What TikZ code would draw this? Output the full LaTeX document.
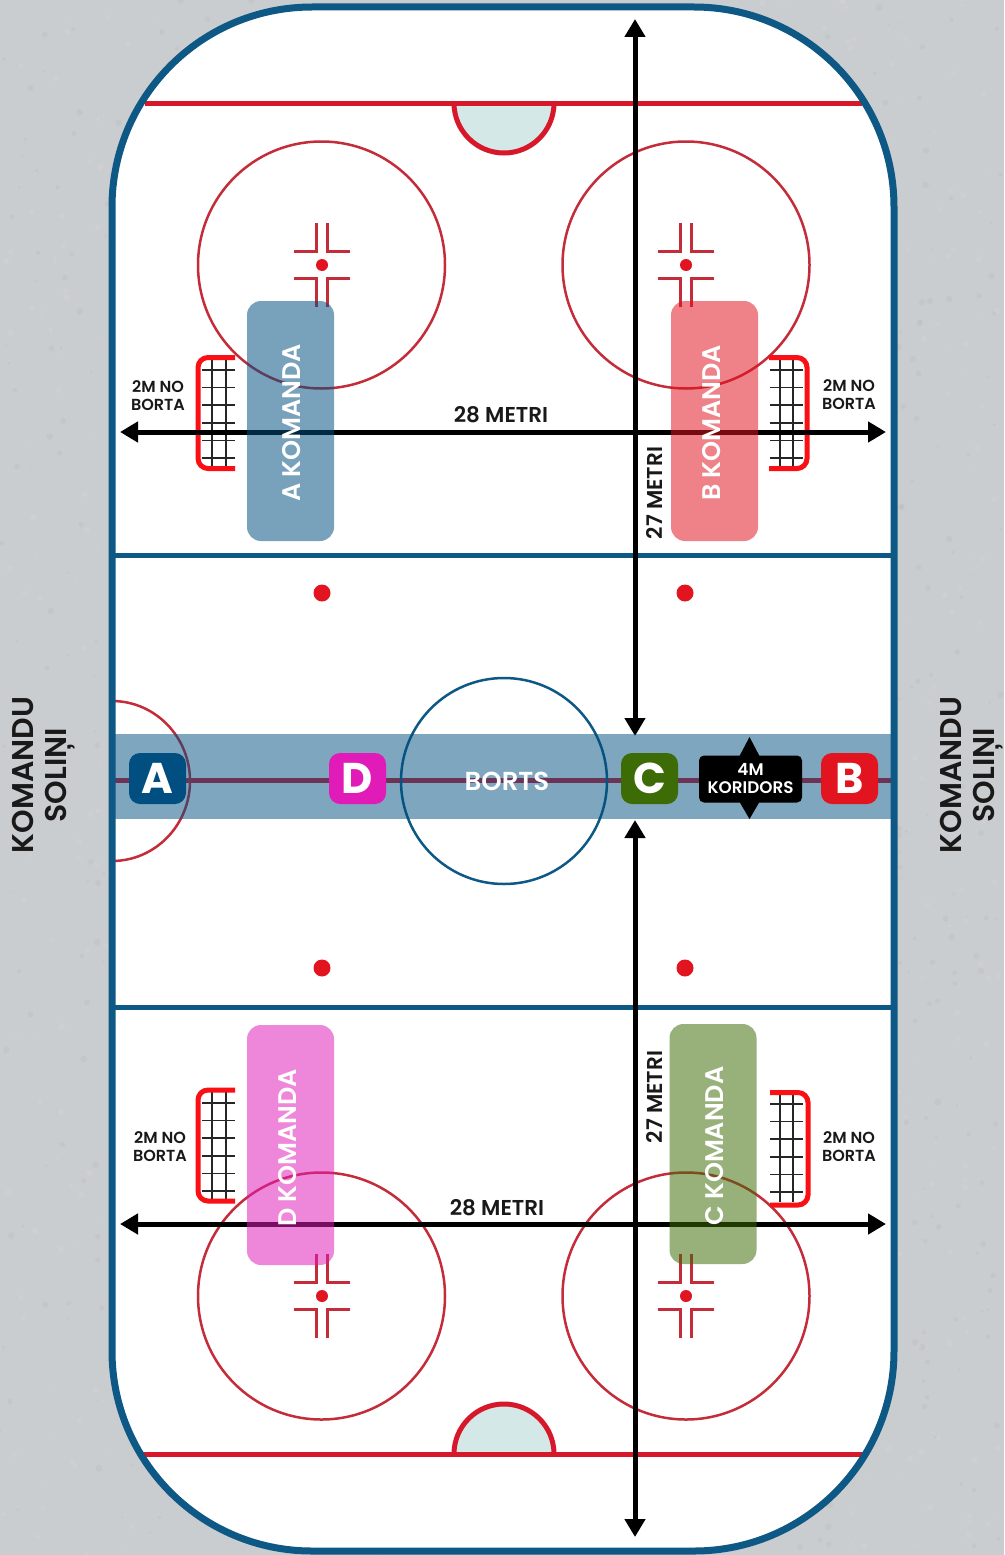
\documentclass[tikz,border=0pt]{standalone}
\usepackage{fontspec}
\setmainfont{Poppins}[BoldFont={Poppins SemiBold}]
\newfontfamily\heavy{Poppins}[UprightFont={Poppins Bold}]
\usetikzlibrary{arrows.meta,shapes.geometric}
\definecolor{bgcol}{HTML}{CACDD0}
\definecolor{rinkblue}{HTML}{0D5885}
\definecolor{linered}{HTML}{D7182A}
\definecolor{thinred}{HTML}{C42C3A}
\definecolor{goalred}{HTML}{FA0F14}
\definecolor{creasefill}{HTML}{D4E8E8}
\definecolor{teamA}{HTML}{004F80}
\definecolor{teamB}{HTML}{E1141F}
\definecolor{teamC}{HTML}{3D6B05}
\definecolor{teamD}{HTML}{E01BB8}
\tikzset{
  x=1pt,y=-1pt,
  every node/.style={inner sep=0pt,outer sep=0pt,font=\bfseries},
  dimarrow/.style={line width=5pt,{Triangle[length=18pt,width=20pt]}-{Triangle[length=18pt,width=20pt]}},
  zonebox/.style={rectangle,rounded corners=14pt,minimum width=87pt,minimum height=240pt,fill opacity=.53,text opacity=1},
  letterbox/.style={rectangle,rounded corners=11pt,minimum width=57pt,minimum height=51pt,text=white,font=\fontsize{43}{43}\selectfont\heavy},
  zonetext/.style={rotate=90,text=white,font=\fontsize{25.5}{29}\selectfont\bfseries},
  smalltext/.style={align=center,text=black!90,font=\fontsize{16}{18}\selectfont\bfseries},
  dimtext/.style={text=black!90,font=\fontsize{21.5}{24}\selectfont\bfseries},
  sidetext/.style={rotate=90,align=center,text=black!90,font=\fontsize{30}{33}\selectfont\bfseries},
  faceoff/.style={circle,draw=thinred,line width=2.5pt,minimum size=247pt},
  hash/.style={draw=thinred,line width=2.5pt},
  reddot/.style={circle,fill=teamB,minimum size=17pt},
  goalframe/.style={draw=goalred,line width=5pt,rounded corners=10pt},
  goalnet/.style={draw=black!85,line width=1.6pt},
}
\newcommand{\hashmarks}[2]{%
  \draw[hash] (#1-28,#2-13.5) -- (#1-5.5,#2-13.5) -- (#1-5.5,#2-42);
  \draw[hash] (#1+28,#2-13.5) -- (#1+5.5,#2-13.5) -- (#1+5.5,#2-42);
  \draw[hash] (#1-28,#2+13.5) -- (#1-5.5,#2+13.5) -- (#1-5.5,#2+42);
  \draw[hash] (#1+28,#2+13.5) -- (#1+5.5,#2+13.5) -- (#1+5.5,#2+42);
  \fill[teamB] (#1,#2) circle (6pt);
}
\newcommand{\goalnet}[3]{% x-left x-right y-top of first horizontal
  \foreach \k in {0,...,5}{\draw[goalnet] (#1,#3+\k*17.6) -- (#2,#3+\k*17.6);}
}
\begin{document}
\begin{tikzpicture}
\useasboundingbox (0,0) rectangle (1004,1555);
\fill[bgcol] (0,0) rectangle (1004,1555);
% concrete mottling of the background
\pgfmathsetseed{4711}
\foreach \i in {1,...,1600}{
  \pgfmathsetmacro{\px}{rnd*1004}
  \pgfmathsetmacro{\py}{rnd*1555}
  \pgfmathsetmacro{\pr}{1+rnd*2.5}
  \pgfmathparse{rnd<0.5 ? "white" : "black!60"}
  \edef\pc{\pgfmathresult}
  \fill[\pc,opacity=.06] (\px,\py) circle (\pr pt);
}
% rink
\path[fill=white] (112,7) [rounded corners=200pt] rectangle (894,1551);
% crease
\draw[linered,line width=5pt,fill=creasefill] (454,103) arc[start angle=180,end angle=360,x radius=50,y radius=-50];
\draw[linered,line width=5pt,fill=creasefill] (454,1454) arc[start angle=180,end angle=0,x radius=50,y radius=-50];
\draw[linered,line width=5pt] (145,103) -- (862,103);
\draw[linered,line width=5pt] (140,1454) -- (866,1454);
% blue lines
\draw[rinkblue,line width=5pt] (112,555) -- (894,555);
\draw[rinkblue,line width=5pt] (112,1007) -- (894,1007);
% faceoff circles
\node[faceoff] (c1) at (321.5,265) {};
\node[faceoff] (c2) at (686,265) {};
\node[faceoff] (c3) at (321.5,1296) {};
\node[faceoff] (c4) at (686,1296) {};
\hashmarks{322}{265}\hashmarks{686}{265}\hashmarks{322}{1296}\hashmarks{686}{1296}
% dots
\node[reddot] (d1) at (322,593) {};
\node[reddot] (d2) at (685,593) {};
\node[reddot] (d3) at (322,968) {};
\node[reddot] (d4) at (685,968) {};
% centre
\draw[linered,line width=5pt] (112,780) -- (894,780);
\node[circle,draw=rinkblue,line width=2.5pt,minimum size=206pt] (centre) at (504,781) {};
\draw[thinred,line width=2.5pt] (112,701) arc[start angle=90,end angle=-90,x radius=78,y radius=-80];
% goals
\goalnet{202}{235}{370}
\goalnet{770}{803}{370}
\goalnet{202}{235}{1103}
\goalnet{770}{803}{1104}
\foreach \x in {212,226}{\draw[goalnet] (\x,360) -- (\x,466); \draw[goalnet] (\x,1092) -- (\x,1199);}
\foreach \x in {780,793}{\draw[goalnet] (\x,360) -- (\x,466); \draw[goalnet] (\x,1095) -- (\x,1202);}
\draw[goalframe] (235,357.5) -- (198,357.5) -- (198,468.5) -- (235,468.5);
\draw[goalframe] (769,357.5) -- (807,357.5) -- (807,468.5) -- (769,468.5);
\draw[goalframe] (235,1090) -- (198,1090) -- (198,1201) -- (235,1201);
\draw[goalframe] (770,1092.5) -- (808,1092.5) -- (808,1205) -- (770,1205);
% dimension arrows
\coordinate (hAl) at (120,432); \coordinate (hAr) at (886,432);
\coordinate (hBl) at (120,1224); \coordinate (hBr) at (886,1224);
\coordinate (vAt) at (635,19); \coordinate (vAb) at (635,736);
\coordinate (vBt) at (635,820); \coordinate (vBb) at (635,1537);
\draw[dimarrow] (hAl) -- (hAr);
\draw[dimarrow] (hBl) -- (hBr);
\draw[dimarrow] (vAt) -- (vAb);
\draw[dimarrow] (vBt) -- (vBb);
% corridor
\fill[teamA,opacity=.5] (115,734) rectangle (891,819);
% rink border on top
\draw[rinkblue,line width=7pt,rounded corners=200pt] (112,7) rectangle (894,1551);
% team zones
\node[zonebox,fill=teamA] (zA) at (290.5,421) {};
\node[zonebox,fill=teamB] (zB) at (714.5,421) {};
\node[zonebox,fill=teamC] (zC) at (713,1144) {};
\node[zonebox,fill=teamD] (zD) at (290.5,1145) {};
\node[zonetext] (tA) at (292,423) {A KOMANDA};
\node[zonetext] (tB) at (712,423) {B KOMANDA};
\node[zonetext] (tC) at (715,1146) {C KOMANDA};
\node[zonetext] (tD) at (288,1148) {D KOMANDA};
% letters
\node[letterbox,fill=teamA] (lA) at (157.5,778.5) {A};
\node[letterbox,fill=teamD] (lD) at (357.5,778.5) {D};
\node[letterbox,fill=teamC] (lC) at (649.5,778.5) {C};
\node[letterbox,fill=teamB] (lB) at (849.5,778.5) {B};
\node[text=white,font=\fontsize{26}{28}\selectfont\bfseries] (borts) at (507,781) {BORTS};
% corridor marker
\fill[black] (739,757) -- (749.5,737) -- (760,757) -- cycle;
\fill[black] (739,801) -- (749.5,819) -- (760,801) -- cycle;
\node[rectangle,fill=black,rounded corners=5pt,minimum width=103pt,minimum height=47pt,text=white,align=center,font=\fontsize{16.8}{18}\selectfont\bfseries] (kor) at (750.5,779) {4M\\KORIDORS};
% labels
\node[smalltext] (n1) at (158,396) {2M NO\\BORTA};
\node[smalltext] (n2) at (849,395) {2M NO\\BORTA};
\node[smalltext] (n3) at (160,1147) {2M NO\\BORTA};
\node[smalltext] (n4) at (849,1147) {2M NO\\BORTA};
\node[dimtext] (w1) at (501,415) {28 METRI};
\node[dimtext] (w2) at (497,1208) {28 METRI};
\node[dimtext,rotate=90] (h1) at (654,493) {27 METRI};
\node[dimtext,rotate=90] (h2) at (654,1097) {27 METRI};
\node[sidetext] (sL) at (44,775) {KOMANDU\\SOLIŅI};
\node[sidetext] (sR) at (972,775) {KOMANDU\\SOLIŅI};
\end{tikzpicture}
\end{document}
